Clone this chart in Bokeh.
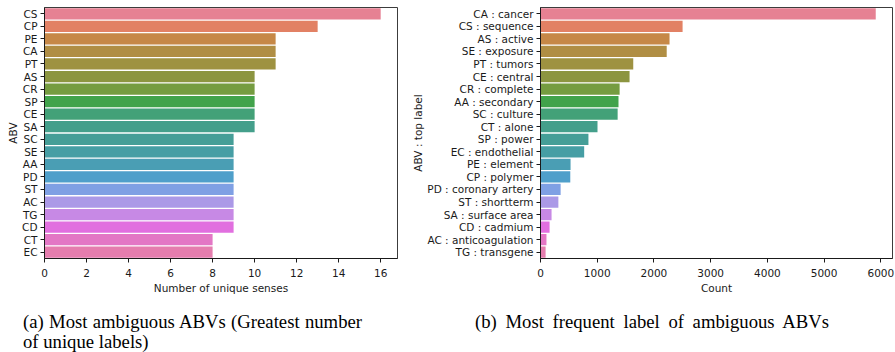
import math
import colorsys

from bokeh.plotting import figure
from bokeh.models import ColumnDataSource, FactorRange, Range1d, FixedTicker, Div
from bokeh.layouts import row, column
from bokeh.embed import file_html
from bokeh.resources import INLINE

# ---- data -------------------------------------------------------------
# (a) abbreviations with the most distinct senses
abv_senses = ["CS", "CP", "PE", "CA", "PT", "AS", "CR", "SP", "CE", "SA",
              "SC", "SE", "AA", "PD", "ST", "AC", "TG", "CD", "CT", "EC"]
n_senses = [16, 13, 11, 11, 11, 10, 10, 10, 10, 10,
            9, 9, 9, 9, 9, 9, 9, 9, 8, 8]

# (b) most frequent label of each ambiguous abbreviation
abv_top_label = ["CA : cancer", "CS : sequence", "AS : active", "SE : exposure",
                 "PT : tumors", "CE : central", "CR : complete", "AA : secondary",
                 "SC : culture", "CT : alone", "SP : power", "EC : endothelial",
                 "PE : element", "CP : polymer", "PD : coronary artery",
                 "ST : shortterm", "SA : surface area", "CD : cadmium",
                 "AC : anticoagulation", "TG : transgene"]
label_count = [5910, 2505, 2275, 2225, 1635, 1570, 1395, 1375, 1360, 1005,
               845, 770, 530, 525, 355, 315, 195, 160, 105, 90]

senses_ticks = [0, 2, 4, 6, 8, 10, 12, 14, 16]
count_ticks = [0, 1000, 2000, 3000, 4000, 5000, 6000]


# ---- husl palette (seaborn-style, desaturated for bars) ---------------
_M = [[3.2406, -1.5372, -0.4986],
      [-0.9689, 1.8758, 0.0415],
      [0.0557, -0.2040, 1.0570]]
_REF_U = 0.19784
_REF_V = 0.46834


def _max_chroma(L, H):
    hrad = math.radians(H)
    sin_h, cos_h = math.sin(hrad), math.cos(hrad)
    sub1 = (L + 16) ** 3 / 1560896.0
    sub2 = sub1 if sub1 > 0.008856 else L / 903.3
    result = float("inf")
    for m1, m2, m3 in _M:
        top = (0.99915 * m1 + 1.05122 * m2 + 1.14460 * m3) * sub2
        rbottom = 0.86330 * m3 - 0.17266 * m2
        lbottom = 0.12949 * m3 - 0.38848 * m1
        bottom = (rbottom * sin_h + lbottom * cos_h) * sub2
        for t in (0.0, 1.0):
            c = L * (top - 1.05122 * t) / (bottom + 0.17266 * sin_h * t)
            if 0.0 < c < result:
                result = c
    return result


def _f_inv(t):
    return t ** 3 if t ** 3 > 0.008856 else (116.0 * t - 16.0) / 903.3


def _from_linear(c):
    return 12.92 * c if c <= 0.0031308 else 1.055 * c ** (1 / 2.4) - 0.055


def husl_to_rgb(h, s, l):
    C = _max_chroma(l, h) / 100.0 * s
    hrad = math.radians(h)
    U, V = math.cos(hrad) * C, math.sin(hrad) * C
    var_y = _f_inv((l + 16.0) / 116.0)
    var_u = U / (13.0 * l) + _REF_U
    var_v = V / (13.0 * l) + _REF_V
    Y = var_y
    X = -(9.0 * Y * var_u) / ((var_u - 4.0) * var_v - var_u * var_v)
    Z = (9.0 * Y - 15.0 * var_v * Y - var_v * X) / (3.0 * var_v)
    rgb = [_from_linear(r[0] * X + r[1] * Y + r[2] * Z) for r in _M]
    return [min(max(v, 0.0), 1.0) for v in rgb]


def husl_palette(n, h=0.01, s=0.9, l=0.65, desat=0.75):
    out = []
    for i in range(n):
        hue = ((i / n + h) % 1) * 359
        r, g, b = husl_to_rgb(hue, s * 99, l * 99)
        hh, ll, ss = colorsys.rgb_to_hls(r, g, b)
        r, g, b = colorsys.hls_to_rgb(hh, ll, ss * desat)
        out.append("#%02x%02x%02x" % (round(r * 255), round(g * 255), round(b * 255)))
    return out


FONT = "DejaVu Sans"
FS = "10.5px"
INK = "#1a1a1a"


def style(p, ticks):
    p.xgrid.visible = False
    p.ygrid.visible = False
    p.outline_line_color = "#3c3c3c"
    p.outline_line_width = 1
    p.background_fill_color = "white"
    p.border_fill_color = "white"
    for ax in (p.xaxis[0], p.yaxis[0]):
        ax.major_tick_out = 4
        ax.major_tick_in = 0
        ax.minor_tick_out = 0
        ax.minor_tick_in = 0
        ax.major_tick_line_color = INK
        ax.axis_line_color = INK
        ax.major_label_text_font = FONT
        ax.major_label_text_font_size = FS
        ax.major_label_text_color = INK
        ax.axis_label_text_font = FONT
        ax.axis_label_text_font_size = FS
        ax.axis_label_text_font_style = "normal"
        ax.axis_label_text_color = INK
        ax.major_label_standoff = 3
    p.xaxis[0].ticker = FixedTicker(ticks=ticks)
    p.xaxis[0].major_label_standoff = 6
    p.xaxis[0].axis_label_standoff = 2
    p.yaxis[0].axis_label_standoff = 0


def bar_chart(cats, vals, xmax, ticks, xlabel, ylabel, width, left, right):
    colors = husl_palette(len(cats))
    src = ColumnDataSource(dict(cat=cats, val=vals, color=colors))
    p = figure(width=width, height=300,
               y_range=FactorRange(factors=list(reversed(cats))),
               x_range=Range1d(0, xmax),
               output_backend="svg", toolbar_location=None,
               min_border_left=left, min_border_right=right,
               min_border_top=7, min_border_bottom=42)
    p.hbar(y="cat", left=0, right="val", height=0.9, source=src,
           fill_color="color", line_color=None)
    style(p, ticks)
    p.xaxis[0].axis_label = xlabel
    p.yaxis[0].axis_label = ylabel
    return p


p1 = bar_chart(abv_senses, n_senses, max(n_senses) * 1.05, senses_ticks,
               "Number of unique senses", "ABV", 405, 44, 8)
p2 = bar_chart(abv_top_label, label_count, max(label_count) * 1.05, count_ticks,
               "Count", "ABV : top label", 490, 135, 3)

CAP = ("font-family:'Liberation Serif',serif;font-size:18.7px;line-height:19.5px;"
       "color:#000;padding-top:12px;")
JUST = "text-align:justify;text-align-last:justify;"

cap_a = Div(width=405, height=52, margin=0, text=(
    f'<div style="{CAP}padding-left:23px;">'
    f'<div style="width:339px;{JUST}">(a) Most ambiguous ABVs (Greatest number</div>'
    '<div>of unique labels)</div></div>'))
cap_b = Div(width=490, height=52, margin=0, text=(
    f'<div style="{CAP}padding-left:70px;">'
    f'<div style="width:354px;{JUST}">(b) Most frequent label of ambiguous ABVs</div>'
    '</div>'))

layout = column(row(p1, p2), row(cap_a, cap_b))

open("out.html", "w").write(file_html(layout, INLINE))
